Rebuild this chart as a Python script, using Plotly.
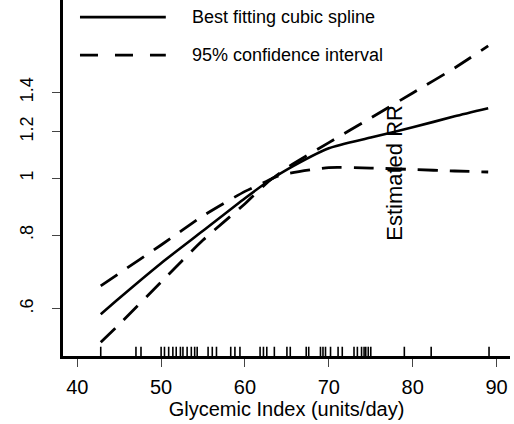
import plotly.graph_objects as go

# Glycemic index grid and estimated relative risk
gi = [42.8, 45, 50, 55, 60, 63.3, 65, 70, 75, 80, 85, 89]
rr = [0.587, 0.625, 0.717, 0.814, 0.925, 1.0, 1.035, 1.125, 1.173, 1.221, 1.275, 1.316]
rr_upper = [0.656, 0.689, 0.770, 0.863, 0.950, 1.0, 1.042, 1.150, 1.267, 1.397, 1.541, 1.680]
rr_lower = [0.526, 0.564, 0.666, 0.785, 0.905, 1.0, 1.018, 1.043, 1.041, 1.035, 1.029, 1.025]

# Observed glycemic index values (rug)
rug = [42.8, 47.0, 47.6, 50.0, 50.4, 50.9, 51.4, 51.8, 52.3, 52.6, 53.1, 53.6, 54.0,
       54.3, 55.6, 56.1, 56.6, 58.3, 58.8, 59.4, 61.8, 62.2, 62.6, 63.5, 65.0, 65.4,
       67.3, 67.6, 69.0, 69.3, 69.6, 70.2, 71.1, 71.6, 73.0, 73.4, 73.9, 74.2, 74.4,
       74.7, 75.0, 79.0, 82.2, 89.1]

x_ticks = [40, 50, 60, 70, 80, 90]
y_ticks = [0.6, 0.8, 1.0, 1.2, 1.4]
y_tick_labels = [".6", ".8", "1", "1.2", "1.4"]

FONT = "Liberation Sans, Arial, sans-serif"

fig = go.Figure()
fig.add_trace(go.Scatter(x=gi, y=rr_upper, mode="lines", line=dict(color="black", width=2.8, dash="20px,12px", shape="spline", smoothing=0.6), showlegend=False))
fig.add_trace(go.Scatter(x=gi, y=rr_lower, mode="lines", line=dict(color="black", width=2.8, dash="20px,12px", shape="spline", smoothing=0.6), showlegend=False))
fig.add_trace(go.Scatter(x=gi, y=rr, mode="lines", line=dict(color="black", width=2.6, shape="spline", smoothing=0.6), showlegend=False))

rx, ry = [], []
for v in rug:
    rx += [v, v, None]
    ry += [0, 0.026, None]
fig.add_trace(go.Scatter(x=rx, y=ry, mode="lines", yaxis="y2", line=dict(color="black", width=1.6), showlegend=False))

# manual legend
fig.add_shape(type="line", xref="paper", yref="paper", x0=0.038, x1=0.230, y0=0.952, y1=0.952, line=dict(color="black", width=2.8))
fig.add_shape(type="line", xref="paper", yref="paper", x0=0.038, x1=0.230, y0=0.845, y1=0.845, line=dict(color="black", width=2.8, dash="18px,17px"))
fig.add_annotation(xref="paper", yref="paper", x=0.284, y=0.952, text="Best fitting cubic spline", showarrow=False, xanchor="left", yanchor="middle", font=dict(size=18, color="black", family=FONT))
fig.add_annotation(xref="paper", yref="paper", x=0.284, y=0.845, text="95% confidence interval", showarrow=False, xanchor="left", yanchor="middle", font=dict(size=18, color="black", family=FONT))

fig.add_annotation(xref="paper", yref="paper", x=0.740, y=0.514, xanchor="center", yanchor="middle",
                   text="Estimated RR", showarrow=False, textangle=-90, font=dict(size=22, color="black", family=FONT))

fig.update_layout(
    width=514, height=424,
    margin=dict(l=63, r=4, t=0, b=68),
    paper_bgcolor="white", plot_bgcolor="white",
    font=dict(family=FONT, color="black"),
    xaxis=dict(range=[38.3, 91.6], tickvals=x_ticks, ticks="outside", ticklen=8, tickwidth=1.2, tickcolor="#444",
               showline=True, linecolor="black", linewidth=2.6, showgrid=False, zeroline=False, automargin=False,
               tickfont=dict(size=20), ticklabelstandoff=3,
               title=dict(text="Glycemic Index (units/day)", font=dict(size=20), standoff=0)),
    yaxis=dict(type="log", range=[-0.3025, 0.3035], tickvals=y_ticks, ticktext=y_tick_labels, ticks="outside", ticklen=8,
               tickwidth=1.2, tickcolor="#444", showline=True, linecolor="black", linewidth=2.6, showgrid=False, zeroline=False,
               tickangle=-90, tickfont=dict(size=18), ticklabelstandoff=12, automargin=False),
    yaxis2=dict(overlaying="y", range=[0, 1], visible=False),
)

fig.write_html("out.html", config={"displayModeBar": False}, post_script="document.body.style.margin='0px';")
